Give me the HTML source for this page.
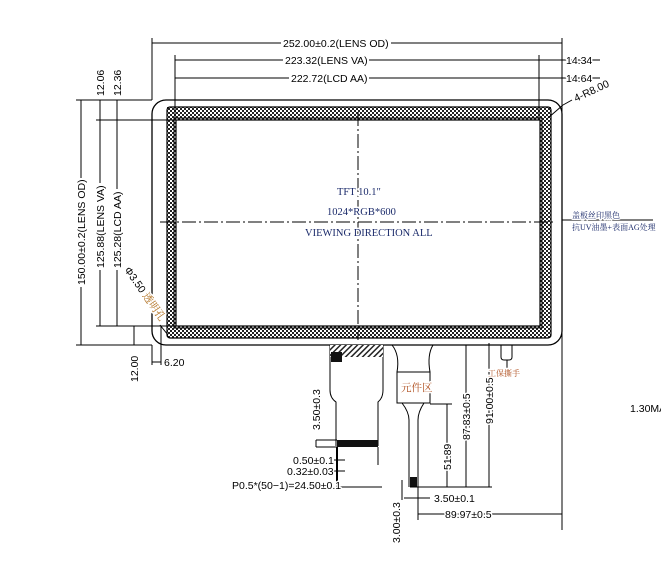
<!DOCTYPE html>
<html><head><meta charset="utf-8"><style>
html,body{margin:0;padding:0;background:#fff;}
svg{display:block;}
text{font-family:"Liberation Sans","Noto Sans CJK SC",sans-serif;font-size:10.5px;fill:#000;stroke:#fff;stroke-width:3px;paint-order:stroke;stroke-linejoin:round;}
.s{font-family:"Liberation Serif","Noto Serif CJK SC",serif;fill:#1a2a6a;}
</style></head><body>
<svg width="661" height="571" viewBox="0 0 661 571" xmlns="http://www.w3.org/2000/svg">
<defs>
<pattern id="h" width="4" height="4" patternUnits="userSpaceOnUse">
<rect width="4" height="4" fill="#fff"/><rect width="2" height="2" fill="#222"/><rect x="2" y="2" width="2" height="2" fill="#222"/>
</pattern>
<pattern id="d" width="4" height="4" patternUnits="userSpaceOnUse" patternTransform="rotate(45)">
<rect width="4" height="4" fill="#fff"/><rect width="1.5" height="4" fill="#222"/>
</pattern>
</defs>
<g stroke="#000" fill="none" stroke-width="1">
<rect x="152" y="100" width="410" height="245" rx="14" stroke-width="1.3"/>
<path fill="url(#h)" fill-rule="evenodd" stroke="none" d="M167 107 H551 V338 H167 Z M176 120 H540 V326 H176 Z"/>
<rect x="167" y="107" width="384" height="231" rx="3" stroke-width="1.2"/>
<rect x="176" y="120" width="364" height="206" stroke-width="1.2"/>
<rect x="174" y="118" width="368" height="210" stroke-width="1"/>
<line x1="358" y1="112" x2="358" y2="340" stroke-dasharray="14,3,2,3"/>
<line x1="160" y1="222" x2="556" y2="222" stroke-dasharray="14,3,2,3"/>
<line x1="152" y1="38" x2="152" y2="100"/>
<line x1="562" y1="38" x2="562" y2="190"/>
<line x1="175" y1="55" x2="175" y2="118"/>
<line x1="539" y1="55" x2="539" y2="118"/>
<line x1="152" y1="43" x2="562" y2="43"/>
<line x1="175" y1="60" x2="600" y2="60"/>
<line x1="175" y1="78" x2="600" y2="78"/>
<line x1="76" y1="100" x2="152" y2="100"/>
<line x1="96" y1="120" x2="176" y2="120"/>
<line x1="76" y1="345" x2="152" y2="345"/>
<line x1="96" y1="326" x2="176" y2="326"/>
<line x1="81" y1="100" x2="81" y2="345"/>
<line x1="100" y1="100" x2="100" y2="326"/>
<line x1="117" y1="100" x2="117" y2="326"/>
<line x1="134" y1="326" x2="134" y2="345"/>
<line x1="152" y1="345" x2="152" y2="365"/>
<line x1="161" y1="326" x2="161" y2="365"/>
<line x1="152" y1="362" x2="161" y2="362"/>
<line x1="160" y1="325" x2="168" y2="335"/>
<line x1="562" y1="190" x2="562" y2="530"/>
<line x1="548" y1="118" x2="563" y2="105"/>
<line x1="563" y1="105" x2="572" y2="100"/>
<line x1="562" y1="220" x2="653" y2="220"/>
<path d="M330 345 V390 Q330 398 336 402 V446 M383 345 V390 Q383 398 378 402 V446" />
<rect x="330" y="345" width="53" height="12" fill="url(#d)" stroke="none"/>
<rect x="331" y="352" width="11" height="10" fill="#111" stroke="none"/>
<rect x="337" y="440" width="41" height="7" fill="#111" stroke="none"/>
<line x1="337" y1="447" x2="337" y2="465"/>
<line x1="378" y1="447" x2="378" y2="465"/>
<path d="M392 345 Q400 355 397 372 M433 345 Q427 355 430 372"/>
<rect x="397" y="372" width="33" height="31"/>
<path d="M402 403 Q409 412 409 420 V487 M424 403 Q418 412 418 420 V487"/>
<rect x="410" y="477" width="7" height="10" fill="#111" stroke="none"/>
<path d="M501 345 V357 Q501 360 504 360 H509 Q512 360 512 357 V345"/>
<line x1="507" y1="360" x2="507" y2="370"/>
<line x1="430" y1="404" x2="452" y2="404"/>
<line x1="447" y1="404" x2="447" y2="487"/>
<line x1="466" y1="345" x2="466" y2="487"/>
<line x1="489" y1="343" x2="489" y2="487"/>
<line x1="410" y1="487" x2="492" y2="487"/>
<line x1="418" y1="487" x2="418" y2="520"/>
<line x1="418" y1="514" x2="562" y2="514"/>
<line x1="404" y1="498" x2="430" y2="498"/>
<line x1="402" y1="480" x2="402" y2="500"/>
<line x1="316" y1="440" x2="337" y2="440"/>
<line x1="316" y1="447" x2="337" y2="447"/>
<line x1="316" y1="440" x2="316" y2="447"/>
<line x1="334" y1="460" x2="345" y2="460"/>
<line x1="334" y1="471" x2="345" y2="471"/>
<line x1="337" y1="487" x2="382" y2="487"/>
<line x1="337" y1="447" x2="337" y2="487" stroke-width="2"/>
</g>
<g fill="#fff">
<rect x="281" y="37" width="110" height="12"/>
<rect x="283" y="54" width="86" height="12"/>
<rect x="289" y="72" width="80" height="12"/>
<rect x="75" y="178" width="12" height="109"/>
<rect x="94" y="183" width="12" height="87"/>
<rect x="111" y="189" width="12" height="81"/>
</g>
<g>
<text x="283" y="47">252.00±0.2(LENS OD)</text>
<text x="285" y="64">223.32(LENS VA)</text>
<text x="291" y="82">222.72(LCD AA)</text>
<text x="566" y="64">14.34</text>
<text x="566" y="82">14.64</text>
<text x="576" y="102" transform="rotate(-25 576 102)">4-R8.00</text>
<text transform="translate(104 96) rotate(-90)">12.06</text>
<text transform="translate(121 96) rotate(-90)">12.36</text>
<text transform="translate(85 285) rotate(-90)">150.00±0.2(LENS OD)</text>
<text transform="translate(104 268) rotate(-90)">125.88(LENS VA)</text>
<text transform="translate(121 268) rotate(-90)">125.28(LCD AA)</text>
<text transform="translate(124 270) rotate(55)">Φ3.50<tspan class="s" style="fill:#b07020"> 透明孔</tspan></text>
<text transform="translate(138 382) rotate(-90)">12.00</text>
<text x="164" y="366">6.20</text>
<text class="s" x="337" y="195">TFT 10.1″</text>
<text class="s" x="327" y="215">1024*RGB*600</text>
<text class="s" x="305" y="236">VIEWING DIRECTION ALL</text>
<text class="s" x="572" y="218" style="font-size:8px">盖板丝印黑色</text>
<text class="s" x="572" y="230" style="font-size:8px">抗UV油墨+表面AG处理</text>
<text class="s" x="401" y="391" style="fill:#b05020">元件区</text>
<text class="s" x="488" y="376" style="fill:#b05020;font-size:8px">工保撕手</text>
<text x="630" y="412">1.30MA</text>
<text transform="translate(320 430) rotate(-90)">3.50±0.3</text>
<text x="293" y="464">0.50±0.1</text>
<text x="287" y="475">0.32±0.03</text>
<text x="232" y="489">P0.5*(50−1)=24.50±0.1</text>
<text transform="translate(451 470) rotate(-90)">51.89</text>
<text transform="translate(470 440) rotate(-90)">87.83±0.5</text>
<text transform="translate(493 424) rotate(-90)">91.00±0.5</text>
<text x="434" y="502">3.50±0.1</text>
<text x="445" y="518">89.97±0.5</text>
<text transform="translate(400 543) rotate(-90)">3.00±0.3</text>
</g>
</svg>
</body></html>
